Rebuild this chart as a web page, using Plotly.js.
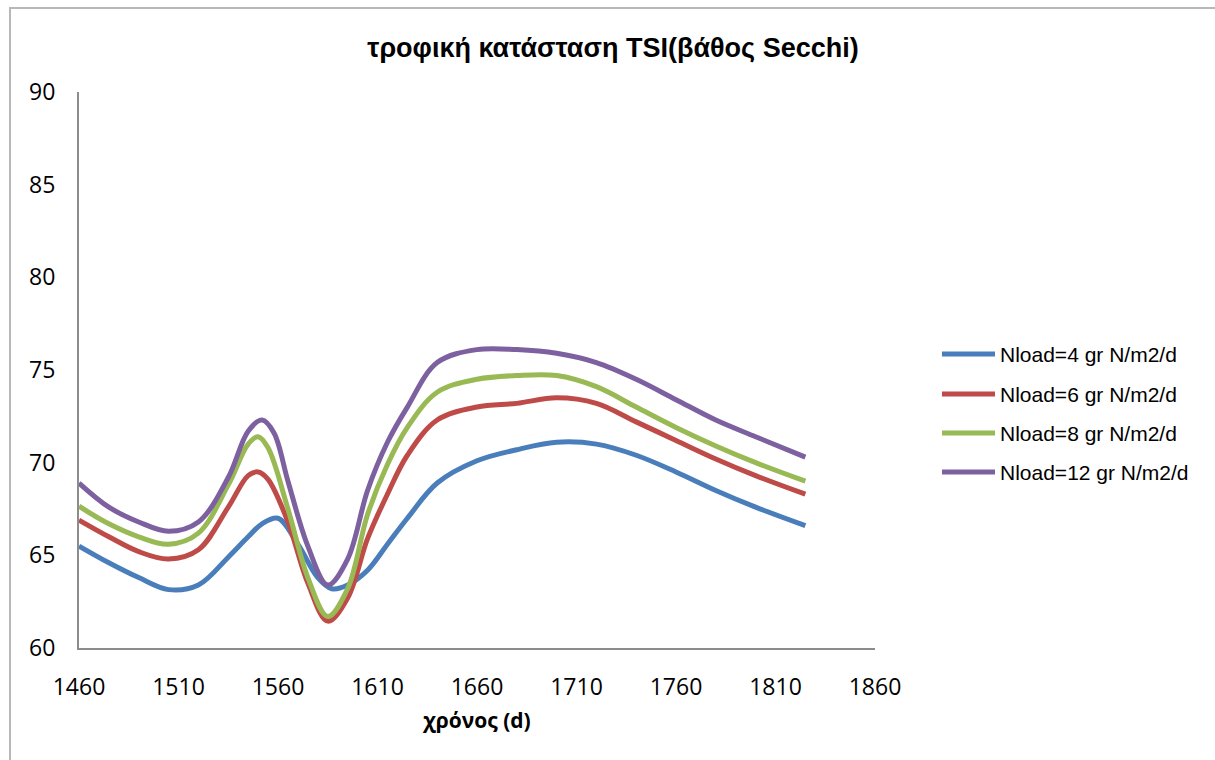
<!DOCTYPE html>
<html>
<head>
<meta charset="utf-8">
<script src="https://cdn.plot.ly/plotly-3.0.1.min.js"></script>
<style>
html,body{margin:0;padding:0;background:#fff;}
#frame{position:absolute;left:9px;top:7px;width:1206px;height:753px;border-left:2px solid #b8b8b8;border-top:2px solid #b8b8b8;box-sizing:border-box;}
#chart{position:absolute;left:0;top:0;width:1204px;height:751px;}
</style>
</head>
<body>
<div id="frame"><div id="chart"></div></div>
<script>
const seriesNames = ["Nload=4 gr N/m2/d","Nload=6 gr N/m2/d","Nload=8 gr N/m2/d","Nload=12 gr N/m2/d"];
const seriesColors = ["#4a7ebb","#be4b48","#98b954","#7d60a0"];

const daysN4 = [1460,1475,1490,1505,1520,1535,1545,1552,1560,1570,1580,1587,1595,1605,1615,1625,1640,1660,1680,1700,1720,1740,1760,1780,1800,1825];
const tsiN4  = [65.5,64.6,63.8,63.15,63.4,64.9,66.0,66.7,67.0,65.6,63.8,63.2,63.4,64.2,65.6,67.0,68.9,70.1,70.7,71.1,71.0,70.4,69.5,68.5,67.6,66.6];

const daysN6 = [1460,1475,1490,1505,1520,1535,1545,1550,1555,1565,1575,1585,1595,1605,1615,1625,1640,1660,1680,1700,1720,1740,1760,1780,1800,1825];
const tsiN6  = [66.9,66.0,65.2,64.8,65.3,67.6,69.3,69.5,69.1,66.8,63.5,61.45,62.7,65.9,68.3,70.4,72.3,73.0,73.2,73.5,73.2,72.2,71.2,70.2,69.3,68.3];

const daysN8 = [1460,1475,1490,1505,1520,1535,1545,1550,1555,1565,1575,1585,1595,1605,1615,1625,1640,1660,1680,1700,1720,1740,1760,1780,1800,1825];
const tsiN8  = [67.65,66.7,66.0,65.6,66.2,68.8,71.0,71.4,70.8,67.5,63.8,61.7,63.2,67.2,69.9,71.9,73.8,74.5,74.7,74.7,74.1,73.0,71.9,70.9,70.0,69.0];

const daysN12 = [1460,1475,1490,1505,1520,1535,1545,1552,1558,1565,1575,1585,1595,1605,1615,1625,1640,1660,1680,1700,1720,1740,1760,1780,1800,1825];
const tsiN12  = [68.9,67.6,66.8,66.3,66.8,69.2,71.7,72.3,71.6,69.0,65.5,63.4,64.8,68.5,71.1,73.0,75.4,76.1,76.1,75.9,75.4,74.5,73.4,72.3,71.4,70.3];

const xTicks = [1460,1510,1560,1610,1660,1710,1760,1810,1860];
const yTicks = [60,65,70,75,80,85,90];

const allDays = [daysN4,daysN6,daysN8,daysN12];
const allTsi = [tsiN4,tsiN6,tsiN8,tsiN12];

const traces = seriesNames.map((n,i)=>({
  x: allDays[i], y: allTsi[i], name: n, type:'scatter', mode:'lines',
  showlegend:false,
  line:{color:seriesColors[i], width:5, shape:'spline', smoothing:1.0}
}));

// custom legend (longer line samples, as in the reference)
const plotL = 68, plotT = 83, plotW = 796, plotH = 556;
const legRowsPx = [345, 385, 424, 463]; // chart-pixel y of each legend row
const legLineX0 = 931, legLineX1 = 984, legTextX = 987;
const px2x = p => (p - plotL) / plotW;
const px2y = p => (plotT + plotH - p) / plotH;
const shapes = [], annotations = [];
seriesNames.forEach((n,i)=>{
  shapes.push({type:'line', xref:'paper', yref:'paper', x0:px2x(legLineX0), x1:px2x(legLineX1), y0:px2y(legRowsPx[i]), y1:px2y(legRowsPx[i]), line:{color:seriesColors[i], width:5}});
  annotations.push({xref:'paper', yref:'paper', x:px2x(legTextX), y:px2y(legRowsPx[i]), xanchor:'left', yanchor:'middle', showarrow:false, text:n, font:{size:21, family:'"Liberation Sans", Arial, sans-serif', color:'#000'}});
});

const layout = {
  width:1204, height:751,
  margin:{l:plotL, r:1204-plotL-plotW, t:plotT, b:751-plotT-plotH},
  paper_bgcolor:'#fff', plot_bgcolor:'#fff',
  font:{family:'"Liberation Sans", Arial, sans-serif', color:'#000'},
  title:{text:'τροφική κατάσταση TSI(βάθος Secchi)', font:{size:27, family:'"Liberation Sans", Arial, sans-serif', weight:'bold', color:'#000'}, x:0.5, xref:'container', y:1-39/751, yref:'container', yanchor:'middle'},
  xaxis:{range:[1460,1860], tickvals:xTicks, ticktext:xTicks.map(String), showgrid:false, zeroline:false,
    showline:true, linecolor:'#8c8c8c', linewidth:2, ticks:'', ticklabelstandoff:17, tickfont:{size:23, family:'"Open Sans", sans-serif'},
    title:{text:'χρόνος (d)', font:{size:21, weight:'bold', family:'"Open Sans", sans-serif'}, standoff:13}},
  yaxis:{range:[60,90], tickvals:yTicks, ticktext:yTicks.map(String), showgrid:false, zeroline:false,
    showline:true, linecolor:'#8c8c8c', linewidth:2, ticks:'', ticklabelstandoff:17, tickfont:{size:23, family:'"Open Sans", sans-serif'}},
  showlegend:false,
  shapes: shapes,
  annotations: annotations
};
Plotly.newPlot('chart', traces, layout, {displayModeBar:false, staticPlot:true});
</script>
</body>
</html>
